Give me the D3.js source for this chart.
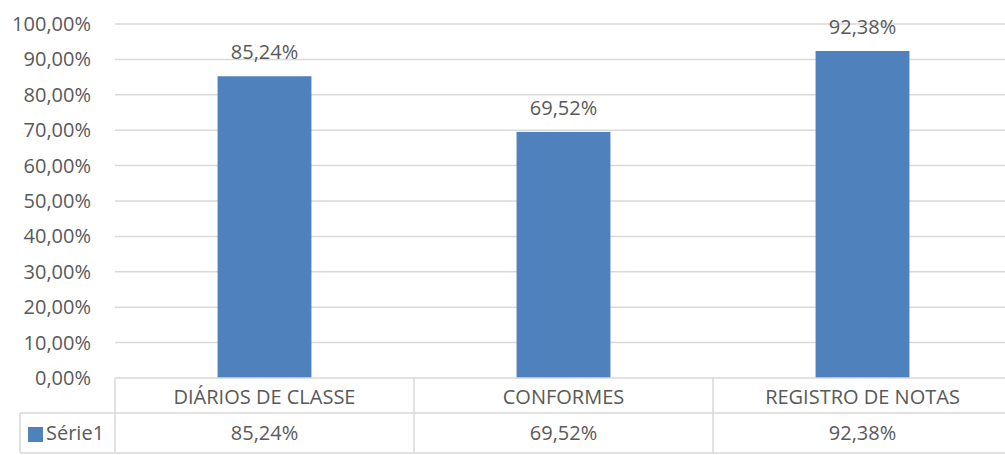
<!DOCTYPE html>
<html lang="pt">
<head>
  <meta charset="UTF-8">
  <title>Gráfico</title>
  <style>
    body { margin: 0; background: #fff; overflow: hidden; }
    svg text { font-family: "Open Sans", "Noto Sans", sans-serif; fill: #595959; font-size: 20px; }
    .grid line { stroke: #d9d9d9; stroke-width: 1.5; }
    .tbl line { stroke: #d9d9d9; stroke-width: 1.5; }
  </style>
</head>
<body>
  <svg width="1005" height="455"></svg>
  <script src="https://cdn.jsdelivr.net/npm/d3@7/dist/d3.min.js"></script>
  <script>
    var categories = ['DIÁRIOS DE CLASSE', 'CONFORMES', 'REGISTRO DE NOTAS']
    var values = [85.24, 69.52, 92.38]
    var seriesName = 'Série1'
    var yTicks = [0, 10, 20, 30, 40, 50, 60, 70, 80, 90, 100]

    var fmt = function(v) { return v.toFixed(2).replace('.', ',') + '%' }

    var svg = d3.select('svg')
    // plot runs a little past the right edge of the picture, as in the original
    var plotLeft = 115, plotRight = 1012, plotTop = 24, plotBottom = 378
    var row1 = 413, row2 = 453, legendLeft = 20

    var x = d3.scaleBand()
      .domain(categories)
      .range([plotLeft, plotRight])
      .paddingInner(0)
      .paddingOuter(0)

    var y = d3.scaleLinear()
      .domain([0, 100])
      .range([plotBottom, plotTop])

    // gridlines
    svg.append('g')
      .attr('class', 'grid')
      .selectAll('line')
      .data(yTicks.slice(1))
      .enter()
      .append('line')
      .attr('x1', plotLeft)
      .attr('x2', plotRight)
      .attr('y1', function(d) { return y(d) })
      .attr('y2', function(d) { return y(d) })

    // y axis labels
    svg.append('g')
      .selectAll('text')
      .data(yTicks)
      .enter()
      .append('text')
      .attr('x', 91)
      .attr('y', function(d) { return y(d) })
      .attr('dy', '0.35em')
      .attr('text-anchor', 'end')
      .text(fmt)

    // bars
    var bw = x.bandwidth() * 0.314
    svg.append('g')
      .selectAll('rect')
      .data(values)
      .enter()
      .append('rect')
      .attr('x', function(d, i) { return x(categories[i]) + x.bandwidth() / 2 - bw / 2 })
      .attr('y', function(d) { return y(d) })
      .attr('width', bw)
      .attr('height', function(d) { return y(0) - y(d) })
      .attr('fill', '#4f81bd')

    // data labels
    svg.append('g')
      .selectAll('text')
      .data(values)
      .enter()
      .append('text')
      .attr('x', function(d, i) { return x(categories[i]) + x.bandwidth() / 2 })
      .attr('y', function(d) { return y(d) - 17 })
      .attr('text-anchor', 'middle')
      .text(fmt)

    // data table
    var tbl = svg.append('g').attr('class', 'tbl')
    tbl.append('line').attr('x1', plotLeft).attr('x2', plotRight).attr('y1', plotBottom).attr('y2', plotBottom)
    tbl.append('line').attr('x1', legendLeft).attr('x2', plotRight).attr('y1', row1).attr('y2', row1)
    tbl.append('line').attr('x1', legendLeft).attr('x2', plotRight).attr('y1', row2).attr('y2', row2)
    tbl.append('line').attr('x1', legendLeft).attr('x2', legendLeft).attr('y1', row1).attr('y2', row2)
    tbl.selectAll('.vl')
      .data(categories)
      .enter()
      .append('line')
      .attr('class', 'vl')
      .attr('x1', function(d) { return x(d) })
      .attr('x2', function(d) { return x(d) })
      .attr('y1', plotBottom)
      .attr('y2', row2)

    svg.append('g')
      .selectAll('text')
      .data(categories)
      .enter()
      .append('text')
      .attr('x', function(d) { return x(d) + x.bandwidth() / 2 })
      .attr('y', (plotBottom + row1) / 2 + 1)
      .attr('dy', '0.35em')
      .attr('text-anchor', 'middle')
      .text(function(d) { return d })

    svg.append('g')
      .selectAll('text')
      .data(values)
      .enter()
      .append('text')
      .attr('x', function(d, i) { return x(categories[i]) + x.bandwidth() / 2 })
      .attr('y', (row1 + row2) / 2)
      .attr('dy', '0.35em')
      .attr('text-anchor', 'middle')
      .text(fmt)

    // legend key
    svg.append('rect')
      .attr('x', 28)
      .attr('y', 427)
      .attr('width', 15)
      .attr('height', 15)
      .attr('fill', '#4f81bd')
    svg.append('text')
      .attr('x', 46)
      .attr('y', (row1 + row2) / 2)
      .attr('dy', '0.35em')
      .text(seriesName)
  </script>
</body>
</html>
